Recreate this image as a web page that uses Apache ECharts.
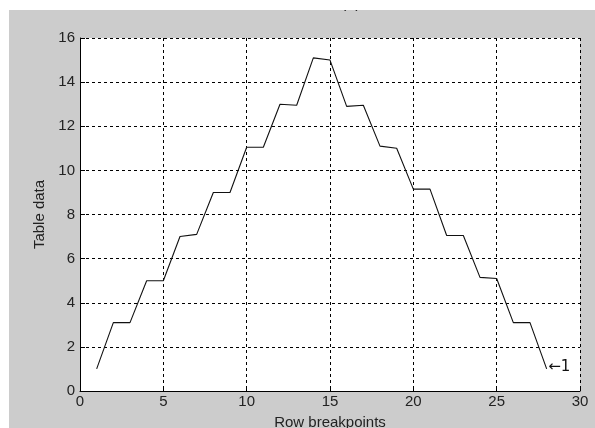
<!DOCTYPE html>
<html>
<head>
<meta charset="utf-8">
<script src="https://cdn.jsdelivr.net/npm/echarts@6/dist/echarts.min.js"></script>
<style>
html,body{margin:0;padding:0;background:#fff;}
#c{width:595px;height:428px;}
</style>
</head>
<body>
<div id="c"></div>
<script>
var rowBreakpoints = [1,2,3,4,5,6,7,8,9,10,11,12,13,14,15,16,17,18,19,20,21,22,23,24,25,26,27,28];
var tableData = [1,3.1,3.1,5,5,7,7.1,9,9,11.05,11.05,13,12.95,15.1,15.0,12.9,12.95,11.1,11.0,9.15,9.15,7.05,7.05,5.15,5.1,3.1,3.1,1.0];
var xTicks = [0,5,10,15,20,25,30];
var yTicks = [0,2,4,6,8,10,12,14,16];
var annotationText = '\u21901';
var titleText = '(a)';

var chart = echarts.init(document.getElementById('c'), null, {renderer:'canvas'});
var pts = rowBreakpoints.map(function(x,i){ return [x, tableData[i]]; });
var last = pts.length - 1;
var font = 'Liberation Sans';
var gridLine = {show:true, lineStyle:{color:'#000', width:1, type:[3,3]}};
chart.setOption({
  backgroundColor:'#cccccc',
  animation:false,
  title:{text:titleText, left:336, top:-9, textStyle:{fontFamily:font, fontSize:16, fontWeight:'normal', color:'#222'}, z:1},
  graphic:[
    {type:'rect', z:100, shape:{x:0,y:0,width:595,height:10}, style:{fill:'#fff'}},
    {type:'rect', z:100, shape:{x:0,y:0,width:9,height:428}, style:{fill:'#fff'}}
  ],
  grid:{left:80, right:15, top:38, bottom:37, show:true, backgroundColor:'#fff', borderWidth:0,
    containLabel:false, outerBoundsMode:'none'},
  xAxis:{
    type:'value', min:0, max:30, interval:5,
    name:'Row breakpoints', nameLocation:'middle', nameGap:24,
    nameTextStyle:{fontFamily:font, fontSize:15, color:'#222'},
    axisLine:{show:true, onZero:false, lineStyle:{color:'#000', width:1}},
    axisTick:{show:true, inside:true, length:5, lineStyle:{color:'#000'}},
    axisLabel:{fontFamily:font, fontSize:15, color:'#222', margin:3, showMinLabel:true, showMaxLabel:true},
    splitLine:gridLine
  },
  yAxis:{
    type:'value', min:0, max:16, interval:2,
    name:'Table data', nameLocation:'middle', nameGap:32,
    nameTextStyle:{fontFamily:font, fontSize:15, color:'#222'},
    axisLine:{show:true, onZero:false, lineStyle:{color:'#000', width:1}},
    axisTick:{show:true, inside:true, length:5, lineStyle:{color:'#000'}},
    axisLabel:{fontFamily:font, fontSize:15, color:'#222', margin:5, showMinLabel:true, showMaxLabel:true},
    splitLine:gridLine
  },
  series:[{
    type:'line', data:pts, symbol:'none',
    lineStyle:{color:'#111', width:1.1}, z:5,
    markPoint:{
      symbol:'circle', symbolSize:1, itemStyle:{color:'rgba(0,0,0,0)'},
      data:[{coord:pts[last], value:annotationText,
        label:{show:true, position:'right', distance:1, offset:[0,-2], formatter:annotationText,
          color:'#111', fontSize:15, fontFamily:'DejaVu Sans'}}]
    }
  }]
});
</script>
</body>
</html>
